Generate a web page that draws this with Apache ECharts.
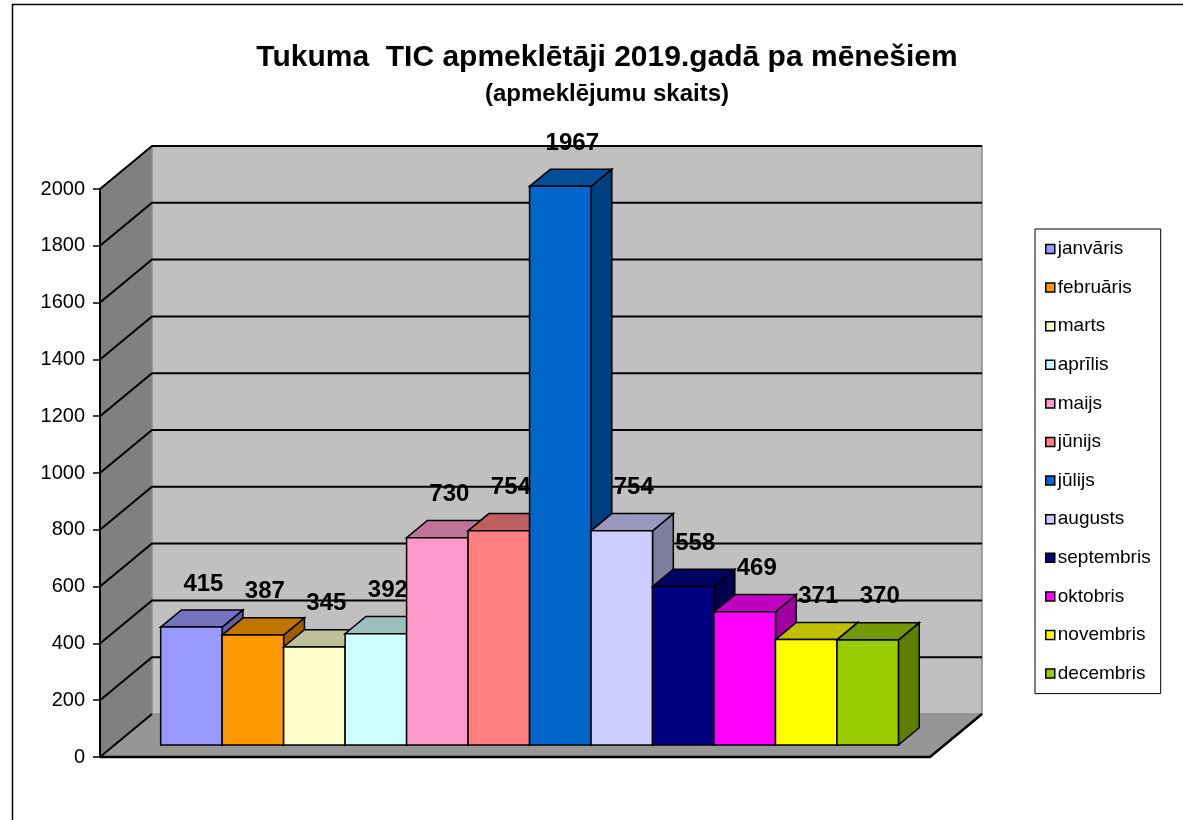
<!doctype html>
<html lang="lv">
<head>
<meta charset="UTF-8">
<title>Tukuma TIC apmeklētāji 2019</title>
<script src="https://cdn.jsdelivr.net/npm/echarts@6/dist/echarts.min.js"></script>
<style>
    html, body { margin: 0; padding: 0; background: #fff; }
    #main { width: 1183px; height: 820px; }
</style>
</head>
<body>
<div id="main"></div>
<script type="text/javascript">
var months = ['janvāris', 'februāris', 'marts', 'aprīlis', 'maijs', 'jūnijs',
    'jūlijs', 'augusts', 'septembris', 'oktobris', 'novembris', 'decembris'];
var visits = [415, 387, 345, 392, 730, 754, 1967, 754, 558, 469, 371, 370];
var colors = ['#9999FF', '#FF9900', '#FFFFCC', '#CCFFFF', '#FF99CC', '#FF8080',
    '#0066CC', '#CCCCFF', '#000080', '#FF00FF', '#FFFF00', '#99CC00'];
var yTicks = [0, 200, 400, 600, 800, 1000, 1200, 1400, 1600, 1800, 2000];

var FONT = '"Liberation Sans", Arial, sans-serif';
// full depth of the 3d box in pixels, bars sit part way in
var DX = 52, DY = 43;
var BAR_FRONT = 0.28, BAR_DEPTH = 0.4;
var X_MIN = -0.75, X_MAX = 12.75;

function shade(hex, k) {
    var n = parseInt(hex.slice(1), 16);
    var r = Math.round(((n >> 16) & 255) * k);
    var g = Math.round(((n >> 8) & 255) * k);
    var b = Math.round((n & 255) * k);
    return 'rgb(' + r + ',' + g + ',' + b + ')';
}

function renderWalls(params, api) {
    var bl = api.coord([X_MIN, 0]);
    var br = api.coord([X_MAX, 0]);
    var tl = api.coord([X_MIN, yTicks[yTicks.length - 1]]);
    var children = [];
    // floor
    children.push({
        type: 'polygon',
        shape: { points: [bl, br, [br[0] + DX, br[1] - DY], [bl[0] + DX, bl[1] - DY]] },
        style: { fill: '#969696' }
    });
    // left wall
    children.push({
        type: 'polygon',
        shape: { points: [bl, [bl[0] + DX, bl[1] - DY], [tl[0] + DX, tl[1] - DY], tl] },
        style: { fill: '#808080' }
    });
    // back wall
    children.push({
        type: 'rect',
        shape: { x: bl[0] + DX, y: tl[1] - DY, width: br[0] - bl[0], height: bl[1] - tl[1] },
        style: { fill: '#C0C0C0', stroke: '#8a8a8a', lineWidth: 1.5 }
    });
    yTicks.forEach(function (v) {
        var p = api.coord([X_MIN, v]);
        var pts = v === 0 ? [p, [p[0] + DX, p[1] - DY]]
            : [p, [p[0] + DX, p[1] - DY], [br[0] + DX, p[1] - DY]];
        children.push({
            type: 'polyline',
            shape: { points: pts },
            style: { stroke: '#000', lineWidth: 2, fill: null }
        });
    });
    // front edge of the floor
    children.push({
        type: 'polyline',
        shape: { points: [bl, br, [br[0] + DX, br[1] - DY]] },
        style: { stroke: '#000', lineWidth: 2.5, fill: null }
    });
    return { type: 'group', children: children };
}

function renderBar(params, api) {
    var i = api.value(0), v = api.value(1);
    var p0 = api.coord([i, 0]);
    var p1 = api.coord([i + 1, v]);
    var fx = BAR_FRONT * DX, fy = BAR_FRONT * DY;
    var bx = BAR_DEPTH * DX, by = BAR_DEPTH * DY;
    var l = p0[0] + fx, r = p1[0] + fx, b = p0[1] - fy, t = p1[1] - fy;
    var color = colors[i];
    var line = { stroke: '#000', lineWidth: 1.5 };
    return {
        type: 'group',
        children: [
            {
                type: 'polygon', z2: i * 3,
                shape: { points: [[r, b], [r + bx, b - by], [r + bx, t - by], [r, t]] },
                style: Object.assign({ fill: shade(color, 0.62) }, line)
            },
            {
                type: 'polygon', z2: i * 3 + 1,
                shape: { points: [[l, t], [r, t], [r + bx, t - by], [l + bx, t - by]] },
                style: Object.assign({ fill: shade(color, 0.75) }, line)
            },
            {
                type: 'rect', z2: i * 3 + 2,
                shape: { x: l, y: t, width: r - l, height: b - t },
                style: Object.assign({ fill: color }, line)
            },
            {
                type: 'text', z2: 100,
                x: (l + r) / 2 + 12, y: t - by - 26,
                style: {
                    text: String(v), fill: '#000', align: 'center', verticalAlign: 'middle',
                    font: 'bold 24px ' + FONT
                }
            }
        ]
    };
}

var myChart = echarts.init(document.getElementById('main'));

var series = [{
    type: 'custom',
    name: 'walls',
    z: 1,
    silent: true,
    renderItem: renderWalls,
    data: [[0, 0]]
}];
months.forEach(function (m, i) {
    series.push({
        type: 'custom',
        name: m,
        z: 2,
        itemStyle: { color: colors[i] },
        renderItem: renderBar,
        data: [[i, visits[i]]]
    });
});

var option = {
    animation: false,
    backgroundColor: '#fff',
    title: {
        text: 'Tukuma  TIC apmeklētāji 2019.gadā pa mēnešiem',
        subtext: '(apmeklējumu skaits)',
        left: 602,
        top: 38,
        textAlign: 'center',
        itemGap: 9,
        textStyle: { fontFamily: FONT, fontWeight: 'bold', fontSize: 30, color: '#000' },
        subtextStyle: { fontFamily: FONT, fontWeight: 'bold', fontSize: 24, color: '#000' }
    },
    graphic: [{
        type: 'rect',
        left: 10, top: 2,
        shape: { width: 1200, height: 900 },
        style: { fill: null, stroke: '#000', lineWidth: 1.5 }
    }],
    legend: {
        data: months,
        orient: 'vertical',
        left: 1035,
        top: 229,
        itemWidth: 9,
        itemHeight: 9,
        itemGap: 18.6,
        icon: 'rect',
        padding: [10, 10, 10, 10],
        borderColor: '#000',
        borderWidth: 1,
        itemStyle: { borderColor: '#000', borderWidth: 1.5 },
        textStyle: { fontFamily: FONT, fontSize: 19, color: '#000', lineHeight: 20, padding: [0, 0, 0, -2] }
    },
    grid: { left: 100, top: 189, width: 830, height: 568 },
    xAxis: { type: 'value', min: X_MIN, max: X_MAX, show: false },
    yAxis: {
        type: 'value',
        min: 0,
        max: 2000,
        interval: 200,
        z: 3,
        axisLine: { show: true, onZero: false, lineStyle: { color: '#000', width: 2 } },
        axisTick: { show: true, length: 7, lineStyle: { color: '#000', width: 1.5 } },
        axisLabel: {
            color: '#000', fontSize: 20, fontFamily: FONT, margin: 15,
            formatter: function (v) { return String(v); }
        },
        splitLine: { show: false }
    },
    series: series
};

myChart.setOption(option);
</script>
</body>
</html>
